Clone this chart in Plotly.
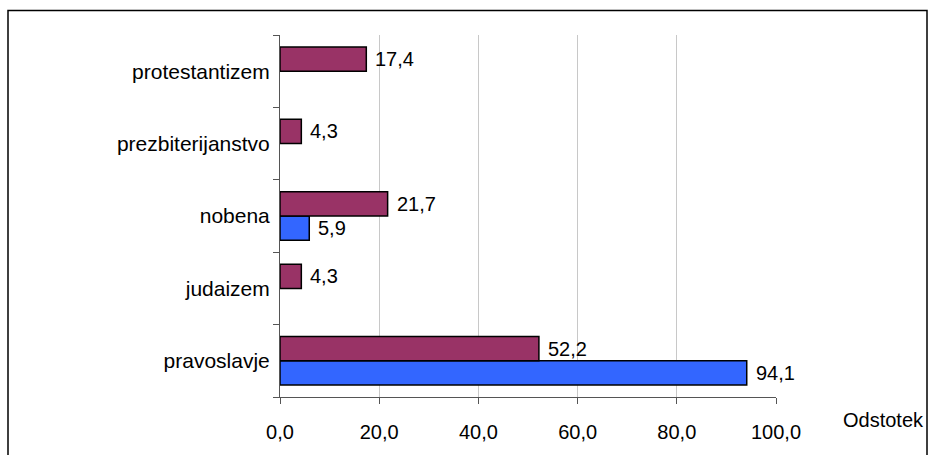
import plotly.graph_objects as go

# Religious affiliation (percent), two groups
categories = ["pravoslavje", "judaizem", "nobena", "prezbiterijanstvo", "protestantizem"]
maroon_vals = [52.2, 4.3, 21.7, 4.3, 17.4]
blue_vals = [94.1, None, 5.9, None, None]
x_ticks = [0, 20, 40, 60, 80, 100]
x_title = "Odstotek"

W, H = 929, 455
L, R, T, B = 280, 153, 35, 50
plot_w = W - L - R
plot_h = H - T - B

FONT = "Liberation Sans, Arial, sans-serif"
MAROON = "#993366"
BLUE = "#3366FF"

fig = go.Figure()
# first trace sits lower inside each group
fig.add_trace(go.Bar(
    y=categories, x=blue_vals, orientation="h",
    marker=dict(color=BLUE, line=dict(color="black", width=1.5)),
    hoverinfo="x+y",
))
fig.add_trace(go.Bar(
    y=categories, x=maroon_vals, orientation="h",
    marker=dict(color=MAROON, line=dict(color="black", width=1.5)),
    hoverinfo="x+y",
))

bargap = 0.33
half = (1 - bargap) / 4  # offset of each bar centre from the category centre

annotations = []
for i, (cat, mv, bv) in enumerate(zip(categories, maroon_vals, blue_vals)):
    for val, off in ((mv, half), (bv, -half)):
        if val is None:
            continue
        annotations.append(dict(
            x=val, y=i + off, xref="x", yref="y",
            text=f"{val:.1f}".replace(".", ","),
            showarrow=False, xanchor="left", yanchor="middle", xshift=7,
            font=dict(family=FONT, size=20, color="black"),
        ))

annotations.append(dict(
    x=(841 - L) / plot_w, y=1 - (428 - T) / plot_h, xref="paper", yref="paper",
    text=x_title, showarrow=False, xanchor="left", yanchor="middle",
    font=dict(family=FONT, size=20, color="black"),
))

def px_x(px):
    return (px - L) / plot_w

def px_y(py):
    return 1 - (py - T) / plot_h

fig.update_layout(
    width=W, height=H,
    margin=dict(l=L, r=R, t=T, b=B),
    paper_bgcolor="white", plot_bgcolor="white",
    barmode="group", bargap=bargap, bargroupgap=0,
    showlegend=False,
    separators=", ",
    font=dict(family=FONT, size=20, color="black"),
    annotations=annotations,
    shapes=[dict(
        type="rect", xref="paper", yref="paper",
        x0=px_x(8), x1=px_x(927), y0=px_y(475), y1=px_y(10),
        line=dict(color="black", width=1.5), layer="above",
    )],
    xaxis=dict(
        range=[0, 100], tickvals=x_ticks, tickformat=".1f",
        showgrid=True, gridcolor="#c8c8c8", gridwidth=1,
        zeroline=False, showline=True, linecolor="#555555", linewidth=1,
        ticks="outside", ticklen=6, tickcolor="#555555",
        ticklabelstandoff=11,
        tickfont=dict(family=FONT, size=20, color="black"),
    ),
    yaxis=dict(
        categoryorder="array", categoryarray=categories,
        range=[-0.5, 4.5], showgrid=False, zeroline=False,
        showline=True, linecolor="#555555", linewidth=1,
        ticks="outside", ticklen=6, tickcolor="#555555", tickson="boundaries",
        ticklabelstandoff=5,
        tickfont=dict(family=FONT, size=21, color="black"),
    ),
)

fig.write_html("out.html")
